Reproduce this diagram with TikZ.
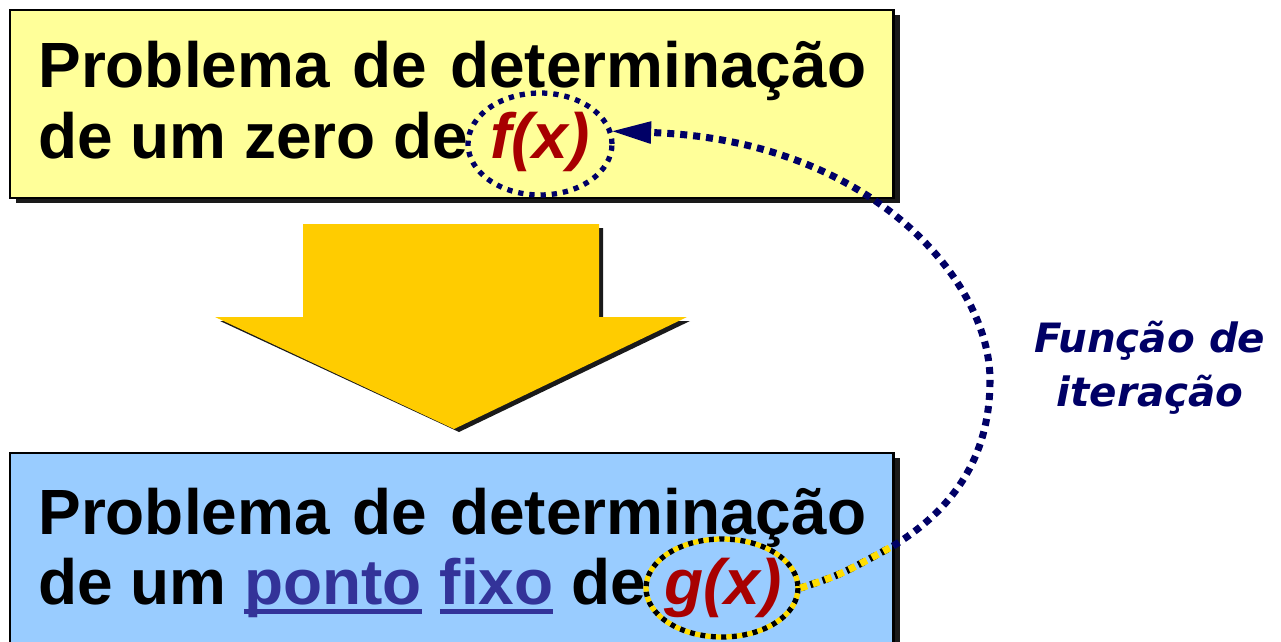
\documentclass[tikz,border=0pt]{standalone}
\usepackage{fontspec}
\setmainfont{Liberation Sans}
\newfontfamily\labelfont{DejaVu Sans}
\usetikzlibrary{arrows.meta,shapes.geometric,positioning}

\definecolor{boxyellow}{HTML}{FFFF99}
\definecolor{boxblue}{HTML}{99CCFF}
\definecolor{arrowgold}{HTML}{FFCC00}
\definecolor{navyline}{HTML}{000066}
\definecolor{funcred}{HTML}{A80000}
\definecolor{linkblue}{HTML}{333399}
\definecolor{shadowgray}{HTML}{1A1A1A}
\definecolor{dotyellow}{HTML}{FFDD00}

% underlined word in the lower box
\newcommand{\ulword}[1]{\textcolor{linkblue}{\setbox0\hbox{#1}\rlap{\rule[-0.19cm]{\wd0}{0.1cm}}\box0}}

\tikzset{
  bigtext/.style={font=\bfseries\fontsize{36.4}{39}\selectfont, inner sep=0pt},
  functext/.style={font=\bfseries\itshape\fontsize{36.4}{39}\selectfont, inner sep=0pt, text=funcred},
  ring/.style={ellipse, inner sep=0pt},
  navydots/.style={draw=navyline, line width=3pt, dash pattern=on 3pt off 3.4pt},
  linkdots/.style={draw=navyline, line width=4pt, dash pattern=on 4pt off 3.4pt},
}

\begin{document}
\begin{tikzpicture}[x=0.02cm, y=-0.02cm]
    \useasboundingbox (0,0) rectangle (1281,642);
    \clip (0,0) rectangle (1281,642);
    % upper box
    \fill[shadowgray] (16,15) rectangle (900,203);
    \draw[fill=boxyellow, line width=1.7pt] (10,10) rectangle (893,198);
    \node[bigtext, anchor=base west] (topA) at (38,88) {\makebox[16.56cm][s]{Problema de determinação}};
    \node[bigtext, anchor=base west] (topB) at (38,158) {de um zero de};
    \node[functext, anchor=base west] (fx) at (490,158) {f(x)};
    \node[ring, navydots, minimum width=2.88cm, minimum height=2.04cm] (fring) at (540,144) {};
    % big arrow
    \fill[shadowgray] (307,228) -- (603,228) -- (603,321) -- (690,321) -- (459,432) -- (220,321) -- (307,321) -- cycle;
    \fill[arrowgold] (303,224) -- (599,224) -- (599,317) -- (687,317) -- (454,429) -- (215,317) -- (303,317) -- cycle;
    % lower box
    \fill[shadowgray] (16,458) rectangle (900,700);
    \draw[fill=boxblue, line width=1.7pt] (10,453) rectangle (893,700);
    \node[bigtext, anchor=base west] (botA) at (38,534) {\makebox[16.56cm][s]{Problema de determinação}};
    \node[bigtext, anchor=base west] (botB) at (38,604) {de um \ulword{ponto} \ulword{fixo} de};
    \node[functext, anchor=base west] (gx) at (664,604) {g(x)};
    \node[ring, minimum width=3.12cm, minimum height=2cm] (gring) at (722,588) {};
    \draw[black, line width=3pt, dash pattern=on 3pt off 3pt] (gring.center) ellipse [x radius=76, y radius=49];
    \draw[dotyellow, line width=3pt, dash pattern=on 3pt off 3pt, dash phase=3pt] (gring.center) ellipse [x radius=76, y radius=49];
    % iteration link
    \coordinate (boxedge) at (893,546);
    \draw[black, line width=4pt, dash pattern=on 4pt off 3.4pt, dash phase=1.4pt] (gring.east) .. controls (840,575) .. (boxedge);
    \draw[dotyellow, line width=4pt, dash pattern=on 4pt off 3.4pt] (gring.east) .. controls (840,575) .. (boxedge);
    \draw[linkdots, -{Triangle[length=22pt, width=13pt, line width=0pt]}] (boxedge) .. controls (960,505) and (990,450) .. (990,380) .. controls (990,280) and (870,140) .. (fring.10);
    \node[font=\labelfont\bfseries\itshape\fontsize{23}{31}\selectfont, text=navyline, align=center] (itlabel) at (1150,368) {Função de\\iteração};
\end{tikzpicture}
\end{document}
